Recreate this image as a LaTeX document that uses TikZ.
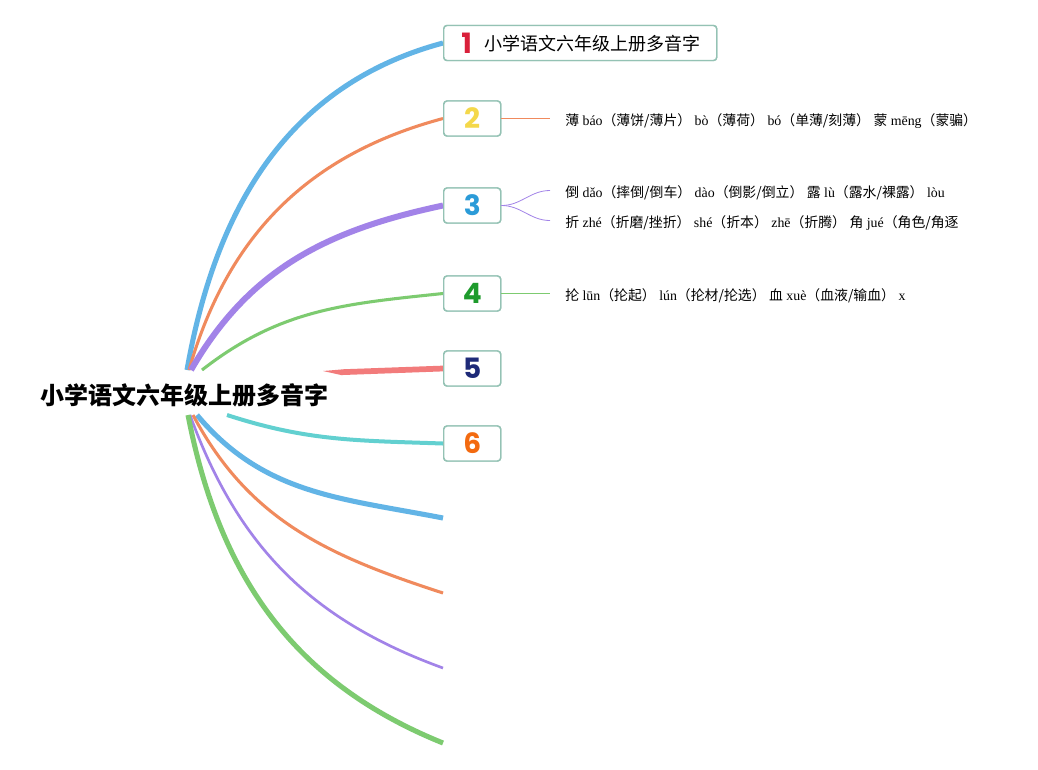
\documentclass[tikz,border=0pt]{standalone}
\usepackage{fontspec}
\setmainfont{Liberation Serif}
\newfontfamily\cjk{Noto Sans CJK SC}
\newfontfamily\digitfont{Poppins}
\newcommand{\C}[1]{{\cjk #1}}
\definecolor{cblue}{HTML}{62B4E6}
\definecolor{corange}{HTML}{F08A5D}
\definecolor{cpurple}{HTML}{A283E8}
\definecolor{cgreen}{HTML}{7DCB70}
\definecolor{cred}{HTML}{F27B7B}
\definecolor{ccyan}{HTML}{62D0D0}
\definecolor{boxline}{HTML}{94C2B4}
\definecolor{n1}{HTML}{D9203A}
\definecolor{n2}{HTML}{F4D84A}
\definecolor{n3}{HTML}{2B9BD8}
\definecolor{n4}{HTML}{1E9B2C}
\definecolor{n5}{HTML}{1E2A78}
\definecolor{n6}{HTML}{F36A10}
\tikzset{
  numbox/.style={draw=boxline, line width=1.1pt, rounded corners=2.5pt, fill=white,
    minimum width=42.75pt, minimum height=26.25pt, inner sep=0pt, anchor=west},
  numtxt/.style={font=\digitfont\bfseries\fontsize{21}{21}\selectfont},
  rowtxt/.style={anchor=west, inner sep=0pt, font=\fontsize{10.4}{12}\selectfont},
  branch/.style={line cap=butt},
}
\begin{document}
\begin{tikzpicture}[x=0.75pt,y=-0.75pt]
\useasboundingbox (0,0) rectangle (1038,769);
\fill[white] (0,0) rectangle (1038,769);
% root
\node[inner sep=0pt, font=\cjk\bfseries\fontsize{18}{20}\selectfont] (root) at (184,395) {小学语文六年级上册多音字};
% start points
\coordinate (s1) at (187,370);
\coordinate (s2) at (189,370);
\coordinate (s3) at (191,370);
\coordinate (s4) at (202,370);
\coordinate (s6) at (227,415);
\coordinate (s7) at (197,415);
\coordinate (s8) at (193,415);
\coordinate (s9) at (190,415);
\coordinate (s10) at (188,415);
% boxes
\node[numbox] (b2) at (443,118.5) {};
\node[numbox] (b3) at (443,205.5) {};
\node[numbox] (b4) at (443,293.5) {};
\node[numbox] (b5) at (443,368.5) {};
\node[numbox] (b6) at (443,443.5) {};
\node[numbox, minimum width=204.75pt] (b1) at (443,43) {};
\coordinate (e7) at (443,518);
\coordinate (e8) at (443,593);
\coordinate (e9) at (443,668);
\coordinate (e10) at (443,743);
% main branches
\draw[branch, cblue, line width=3.8pt] (s1) to[out=80,in=195] (b1.west);
\draw[branch, corange, line width=2.3pt] (s2) to[out=74,in=195] (b2.west);
\draw[branch, cpurple, line width=4.5pt] (s3) to[out=60,in=192] (b3.west);
\draw[branch, cgreen, line width=2.3pt] (s4) to[out=38,in=186] (b4.west);
\draw[branch, ccyan, line width=3pt] (s6) to[out=-18,in=178] (b6.west);
\draw[branch, cblue, line width=3.8pt] (s7) to[out=-50,in=169] (e7);
\draw[branch, corange, line width=2.3pt] (s8) to[out=-62,in=162] (e8);
\draw[branch, cpurple, line width=2pt] (s9) to[out=-70,in=160] (e9);
\draw[branch, cgreen, line width=3.8pt] (s10) to[out=-79,in=158] (e10);
% tapered branch 5
\coordinate (s5) at (323,371);
\coordinate (m5) at (341,372.2);
\fill[cred] (s5) -- (341,369.5) -- (341,375) -- cycle;
\draw[branch, cred, line width=4.3pt] (m5) -- (b5.west);
% boxes on top
\node[numbox] at (443,118.5) {};
\node[numbox] at (443,205.5) {};
\node[numbox] at (443,293.5) {};
\node[numbox] at (443,368.5) {};
\node[numbox] at (443,443.5) {};
\node[numbox, minimum width=204.75pt] at (443,43) {};
\node[anchor=west, inner sep=0pt, text=n1, font=\digitfont\bfseries\fontsize{21}{21}\selectfont] (d1) at (461,43) {1};
\node[anchor=west, inner sep=0pt, font=\cjk\fontsize{13.5}{14}\selectfont] (t1) at (484,44) {小学语文六年级上册多音字};
\node[numtxt, text=n2] (d2) at (b2.center) {2};
\node[numtxt, text=n3] (d3) at (b3.center) {3};
\node[numtxt, text=n4] (d4) at (b4.center) {4};
\node[numtxt, text=n5] (d5) at (b5.center) {5};
\node[numtxt, text=n6] (d6) at (b6.center) {6};
% sub connectors
\coordinate (c2) at (550,118.5);
\coordinate (c3a) at (550,190.5);
\coordinate (c3b) at (550,220.5);
\coordinate (c4) at (550,293.5);
\draw[corange, line width=0.6pt] (b2.east) -- (c2);
\draw[cpurple, line width=0.6pt] (b3.east) to[out=0,in=180] (c3a);
\draw[cpurple, line width=0.6pt] (b3.east) to[out=0,in=180] (c3b);
\draw[cgreen, line width=0.6pt] (b4.east) -- (c4);
% rows
\node[rowtxt] (t2) at (565,121) {\C{薄} báo\C{（薄饼/薄片）} bò\C{（薄荷）} bó\C{（单薄/刻薄）} \C{蒙} mēng\C{（蒙骗）}};
\node[rowtxt] (t3a) at (565,193) {\C{倒} dǎo\C{（摔倒/倒车）} dào\C{（倒影/倒立）} \C{露} lù\C{（露水/裸露）} lòu};
\node[rowtxt] (t3b) at (565,223) {\C{折} zhé\C{（折磨/挫折）} shé\C{（折本）} zhē\C{（折腾）} \C{角} jué\C{（角色/角逐}};
\node[rowtxt] (t4) at (565,296) {\C{抡} lūn\C{（抡起）} lún\C{（抡材/抡选）} \C{血} xuè\C{（血液/输血）} x};
\end{tikzpicture}
\end{document}
